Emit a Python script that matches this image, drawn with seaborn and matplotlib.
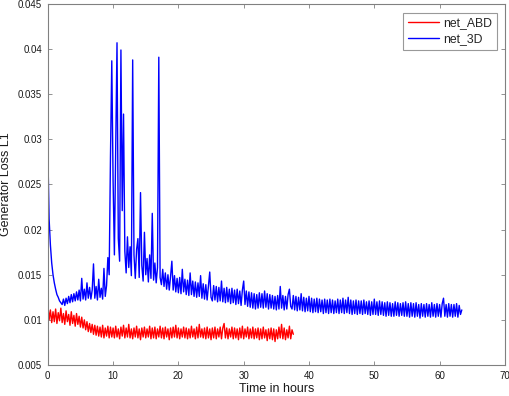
import numpy as np
import pandas as pd
import matplotlib
matplotlib.use("Agg")
import matplotlib.pyplot as plt
import seaborn as sns
from matplotlib.lines import Line2D

# Generator loss L1 values (in units of 1e-4), sampled every 0.2 hours
step_hours = 0.2
net_3d = [
    290, 212, 183, 163, 150, 141, 134, 128, 125, 121,
    119, 117, 123, 116, 124, 118, 126, 119, 128, 120,
    129, 121, 131, 122, 133, 121, 146, 123, 134, 122,
    141, 124, 136, 123, 133, 162, 124, 137, 122, 145,
    125, 135, 123, 157, 126, 138, 169, 150, 281, 387,
    254, 172, 286, 407, 190, 165, 399, 221, 328, 176,
    152, 192, 158, 181, 149, 388, 172, 146, 178, 190,
    147, 241, 160, 143, 197, 150, 168, 142, 172, 146,
    218, 144, 163, 141, 158, 391, 147, 139, 156, 137,
    152, 134, 150, 133, 148, 165, 133, 149, 131, 146,
    130, 147, 129, 156, 131, 145, 128, 144, 127, 152,
    128, 143, 126, 142, 125, 141, 126, 149, 124, 140,
    123, 139, 122, 138, 153, 125, 121, 138, 122, 137,
    120, 136, 121, 143, 120, 135, 119, 136, 120, 134,
    118, 135, 119, 133, 117, 134, 118, 132, 116, 133,
    143, 117, 132, 115, 131, 114, 130, 113, 129, 112,
    128, 113, 130, 114, 129, 113, 132, 114, 129, 112,
    128, 113, 127, 112, 126, 111, 127, 112, 137, 113,
    127, 111, 126, 112, 128, 134, 115, 112, 127, 111,
    126, 110, 125, 111, 129, 110, 125, 109, 124, 110,
    126, 109, 124, 108, 123, 109, 124, 108, 123, 109,
    122, 107, 123, 108, 122, 107, 123, 108, 122, 107,
    121, 108, 123, 107, 122, 108, 124, 107, 122, 108,
    125, 107, 122, 106, 121, 107, 122, 106, 121, 107,
    121, 106, 122, 107, 120, 106, 121, 105, 120, 106,
    123, 106, 120, 105, 121, 106, 120, 105, 119, 104,
    120, 105, 119, 104, 118, 104, 120, 105, 119, 104,
    118, 105, 119, 104, 120, 104, 118, 103, 119, 104,
    118, 103, 119, 104, 117, 102, 118, 104, 117, 103,
    118, 104, 117, 103, 119, 104, 117, 103, 118, 104,
    117, 103, 118, 124, 104, 117, 103, 118, 104, 117,
    103, 117, 104, 118, 103, 116, 106, 111,
]
net_abd = [
    118, 100, 111, 97, 109, 98, 112, 96, 108, 99,
    113, 97, 107, 95, 110, 98, 106, 94, 109, 96,
    105, 93, 107, 95, 104, 92, 103, 91, 100, 89,
    98, 87, 96, 86, 95, 84, 94, 83, 93, 82,
    92, 81, 94, 80, 91, 82, 93, 80, 92, 81,
    91, 80, 93, 81, 90, 79, 92, 82, 94, 80,
    91, 81, 95, 80, 90, 79, 91, 81, 93, 80,
    90, 78, 91, 81, 92, 80, 90, 81, 93, 79,
    91, 80, 92, 79, 90, 81, 93, 80, 91, 79,
    92, 81, 90, 78, 91, 80, 92, 81, 94, 80,
    91, 79, 90, 81, 92, 80, 91, 79, 90, 80,
    93, 81, 90, 79, 92, 80, 95, 81, 90, 80,
    91, 79, 92, 80, 90, 78, 91, 80, 92, 79,
    90, 81, 92, 79, 91, 96, 80, 91, 79, 90,
    81, 92, 79, 91, 80, 90, 78, 91, 80, 93,
    79, 90, 81, 92, 79, 90, 80, 92, 79, 90,
    80, 91, 78, 90, 79, 92, 80, 89, 77, 90,
    79, 91, 78, 90, 76, 89, 79, 92, 80, 95,
    79, 91, 78, 89, 80, 93, 79, 89, 84,
]
series_names = ["net_ABD", "net_3D"]
series_colors = ["#ff0000", "#0000ff"]
x_ticks = [0, 10, 20, 30, 40, 50, 60, 70]
y_ticks = [0.005, 0.01, 0.015, 0.02, 0.025, 0.03, 0.035, 0.04, 0.045]
y_tick_labels = ["0.005", "0.01", "0.015", "0.02", "0.025", "0.03", "0.035", "0.04", "0.045"]

frames = []
for name, vals in zip(series_names, [net_abd, net_3d]):
    v = np.array(vals) * 1e-4
    frames.append(pd.DataFrame({"hours": np.arange(len(v)) * step_hours,
                                "loss": v, "net": name}))
df = pd.concat(frames, ignore_index=True)

sns.set_style("white")
plt.rcParams["font.family"] = ["Liberation Sans", "DejaVu Sans"]

fig = plt.figure(figsize=(5.10, 3.96), dpi=100)
ax = fig.add_axes([0.0937, 0.0783, 0.8963, 0.9117])

sns.lineplot(data=df, x="hours", y="loss", hue="net", hue_order=series_names,
             palette=dict(zip(series_names, series_colors)), linewidth=1.0,
             estimator=None, sort=False, ax=ax, legend=False)

ax.set_xlim(0, 70)
ax.set_ylim(0.005, 0.045)
ax.set_xticks(x_ticks)
ax.set_xticklabels([str(t) for t in x_ticks])
ax.set_yticks(y_ticks)
ax.set_yticklabels(y_tick_labels)
ax.tick_params(direction="in", length=3, width=0.6, colors="#808080",
               labelcolor="#1a1a1a", labelsize=7.0, top=True, right=True,
               bottom=True, left=True, pad=4)
for sp in ax.spines.values():
    sp.set_visible(True)
    sp.set_color("#808080")
    sp.set_linewidth(0.8)
ax.set_xlabel("Time in hours", fontsize=9, color="#1a1a1a", labelpad=2)
ax.set_ylabel("Generator Loss L1", fontsize=9, color="#1a1a1a")
ax.yaxis.set_label_coords(-0.0905, 0.5)
ax.yaxis.label.set_verticalalignment("center")
ax.yaxis.label.set_horizontalalignment("center")

handles = [Line2D([], [], color=c, lw=1.0) for c in series_colors]
leg = ax.legend(handles, series_names, loc="upper right", fontsize=8.8,
                frameon=True, fancybox=False, edgecolor="#808080",
                borderpad=0.4, handlelength=2.5, handletextpad=0.35,
                labelspacing=0.3, borderaxespad=0,
                bbox_to_anchor=(0.9825, 0.976))
leg.get_frame().set_linewidth(0.8)

fig.savefig("out.png", dpi=100)
